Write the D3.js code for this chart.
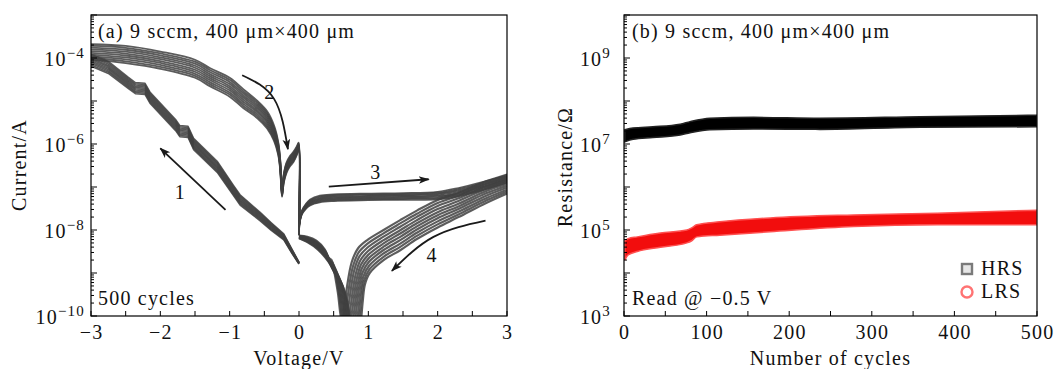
<!DOCTYPE html>
<html>
<head>
<meta charset="utf-8">
<script src="https://d3js.org/d3.v7.min.js"></script>
<style>
  body { margin: 0; background: #fff; }
  text { font-family: "Liberation Serif", "Times New Roman", serif; fill: #111; letter-spacing: 1.2px; }
</style>
</head>
<body>
<svg id="chart" width="1056" height="369"></svg>
<script>
// ---- dados ----
// (a) curvas I-V: tensão (V), log10 da corrente e meia-largura da faixa de ciclos
const sweep1V    = [0, -0.1, -0.22, -0.4, -0.56, -0.85, -0.95, -1.18, -1.52, -1.6, -1.72, -1.78, -2.15, -2.22, -2.36, -2.46, -2.75, -3.0];
const sweep1LogI = [-8.77, -8.5, -8.16, -7.92, -7.69, -7.3, -7.07, -6.53, -6.0, -5.72, -5.7, -5.56, -4.92, -4.72, -4.7, -4.58, -4.22, -4.05];
const sweep1Band = [0.02, 0.05, 0.07, 0.09, 0.1, 0.12, 0.12, 0.13, 0.13, 0.13, 0.13, 0.13, 0.13, 0.13, 0.13, 0.13, 0.14, 0.14];

const sweep2V    = [-3.0, -2.5, -2.0, -1.5, -1.28, -1.0, -0.8, -0.6, -0.46, -0.36, -0.3, -0.27, -0.245, -0.22, -0.18, -0.13, -0.08, -0.03, -0.005, 0.0];
const sweep2LogI = [-3.86, -3.92, -4.05, -4.25, -4.45, -4.68, -4.95, -5.2, -5.44, -5.75, -6.1, -6.5, -7.15, -6.8, -6.55, -6.4, -6.3, -6.15, -6.05, -8.1];
const sweep2Band = [0.18, 0.2, 0.2, 0.21, 0.21, 0.22, 0.22, 0.2, 0.2, 0.18, 0.15, 0.12, 0.08, 0.1, 0.12, 0.12, 0.12, 0.1, 0.08, 0.03];

const sweep3V    = [0, 0.04, 0.1, 0.16, 0.3, 0.5, 1.0, 1.5, 2.0, 2.3, 2.6, 3.0];
const sweep3LogI = [-7.92, -7.6, -7.45, -7.36, -7.28, -7.25, -7.23, -7.22, -7.2, -7.12, -7.0, -6.8];
const sweep3Band = [0.03, 0.05, 0.06, 0.07, 0.08, 0.08, 0.08, 0.08, 0.09, 0.1, 0.1, 0.1];

const sweep4V    = [3.0, 2.7, 2.3, 2.0, 1.7, 1.46, 1.22, 1.0, 0.9, 0.84, 0.78, 0.72, 0.66, 0.6, 0.55, 0.48, 0.4, 0.26, 0.12, 0.0];
const sweep4LogI = [-6.95, -7.12, -7.42, -7.62, -7.88, -8.12, -8.35, -8.62, -8.85, -9.2, -9.9, -10.6, -9.9, -9.3, -9.0, -8.85, -8.6, -8.35, -8.22, -8.16];
const sweep4Band = [0.2, 0.25, 0.28, 0.32, 0.33, 0.35, 0.35, 0.38, 0.42, 0.45, 0.45, 0.45, 0.45, 0.4, 0.3, 0.2, 0.15, 0.1, 0.06, 0.03];
const sweep4BandV = [0, 0, 0, 0, 0, 0, 0, 0.02, 0.05, 0.08, 0.1, 0.1, 0.1, 0.1, 0.08, 0.05, 0.03, 0.01, 0, 0];

// posição relativa de cada ciclo desenhado dentro da faixa
const cycleFactors = [-1, -0.78, -0.56, -0.33, -0.11, 0.11, 0.33, 0.56, 0.78, 1];

// (b) resistência vs ciclos: envoltória da faixa (log10 Ω)
const hrsCycles = [1, 11, 35, 68, 80, 104, 157, 237, 359, 500];
const hrsUpper  = [7.33, 7.37, 7.4, 7.46, 7.52, 7.6, 7.62, 7.6, 7.635, 7.67];
const hrsLower  = [7.05, 7.11, 7.15, 7.21, 7.26, 7.33, 7.35, 7.34, 7.39, 7.4];

const lrsCycles = [1, 5, 16, 44, 76, 82, 88, 116, 177, 278, 379, 500];
const lrsUpper  = [4.75, 4.8, 4.84, 4.93, 5.0, 5.05, 5.12, 5.19, 5.28, 5.35, 5.39, 5.46];
const lrsLower  = [4.3, 4.42, 4.5, 4.6, 4.7, 4.75, 4.84, 4.88, 4.96, 5.08, 5.12, 5.12];

// eixos
const voltTicks = [-3, -2, -1, 0, 1, 2, 3];
const currentLabelExp = [-4, -6, -8, -10];
const cycleTicks = [0, 100, 200, 300, 400, 500];
const resLabelExp = [3, 5, 7, 9];

// setas numeradas da figura (a): [V, log10 I]
const arrowPaths = [
  [[-1.06, -7.53], [-2.0, -6.1]],
  [[-0.82, -4.4], [-0.36, -4.95], [-0.16, -6.12]],
  [[0.43, -6.99], [1.87, -6.82]],
  [[2.69, -7.78], [1.94, -8.16], [1.34, -8.95]]
];
const arrowLabels = [["1", -1.71, -7.11], ["2", -0.42, -4.78], ["3", 1.11, -6.64], ["4", 1.92, -8.58]];

// ---- layout ----
const svg = d3.select("#chart");
const pa = { left: 91, right: 507, top: 15, bottom: 316 };
const pb = { left: 624, right: 1037, top: 15, bottom: 316 };

const xa = d3.scaleLinear().domain([-3, 3]).range([pa.left, pa.right]);
const ya = d3.scaleLog().domain([1e-10, 1e-3]).range([pa.bottom, pa.top]);
const xb = d3.scaleLinear().domain([0, 500]).range([pb.left, pb.right]);
const yb = d3.scaleLog().domain([1e3, 1e10]).range([pb.bottom, pb.top]);

const FS = 20;

const defs = svg.append("defs");
defs.append("clipPath").attr("id", "clipA").append("rect")
  .attr("x", pa.left).attr("y", pa.top).attr("width", pa.right - pa.left).attr("height", pa.bottom - pa.top);
defs.append("clipPath").attr("id", "clipB").append("rect")
  .attr("x", pb.left).attr("y", pb.top).attr("width", pb.right - pb.left).attr("height", pb.bottom - pb.top);
defs.append("marker").attr("id", "head")
  .attr("viewBox", "0 0 10 10").attr("refX", 9).attr("refY", 5)
  .attr("markerWidth", 11).attr("markerHeight", 11).attr("orient", "auto-start-reverse")
  .attr("markerUnits", "userSpaceOnUse")
  .append("path").attr("d", "M0,1.5 L10,5 L0,8.5 L2.5,5 Z").attr("fill", "#1a1a1a");

// função para eixos com escala log (ticks para dentro)
function drawAxes(p, x, y, xTicks, xMinor, labelExps, labelGap) {
  const g = svg.append("g");
  xMinor.forEach(t => {
    g.append("line").attr("x1", x(t)).attr("x2", x(t))
      .attr("y1", p.bottom).attr("y2", p.bottom - 5)
      .attr("stroke", "#000").attr("stroke-width", 1);
  });
  xTicks.forEach(t => {
    g.append("text").attr("x", x(t) + 0.6).attr("y", p.bottom + 23)
      .attr("text-anchor", "middle").attr("font-size", FS)
      .text(t < 0 ? "\u2212" + Math.abs(t) : t);
  });
  y.ticks().forEach(t => {
    const e = Math.log10(t);
    const major = Math.abs(e - Math.round(e)) < 1e-6;
    g.append("line").attr("x1", p.left).attr("x2", p.left + (major ? 6 : 3))
      .attr("y1", y(t)).attr("y2", y(t))
      .attr("stroke", "#000").attr("stroke-width", 1);
  });
  labelExps.forEach(e => {
    const t = g.append("text").attr("x", p.left - labelGap).attr("y", y(Math.pow(10, e)) + 8)
      .attr("text-anchor", "end").attr("font-size", FS);
    t.append("tspan").text("10");
    t.append("tspan").attr("dy", -8).attr("font-size", 15)
      .text(e < 0 ? "\u2212" + Math.abs(e) : e);
  });
  g.append("rect").attr("x", p.left).attr("y", p.top)
    .attr("width", p.right - p.left).attr("height", p.bottom - p.top)
    .attr("fill", "none").attr("stroke", "#000").attr("stroke-width", 1.2);
}

// ---- (a) curvas I-V ----
const lineSmooth = d3.line()
  .x(d => xa(d[0])).y(d => ya(Math.pow(10, d[1])))
  .curve(d3.curveCatmullRom.alpha(0.5));
const lineStraight = d3.line()
  .x(d => xa(d[0])).y(d => ya(Math.pow(10, d[1])));

const gA = svg.append("g").attr("clip-path", "url(#clipA)");
const sweeps = [
  [sweep1V, sweep1LogI, sweep1Band, null, lineStraight, 1.5],
  [sweep2V, sweep2LogI, sweep2Band, null, lineSmooth, 1.8],
  [sweep3V, sweep3LogI, sweep3Band, null, lineSmooth, 1.5],
  [sweep4V, sweep4LogI, sweep4Band, sweep4BandV, lineSmooth, 2.2]
];
sweeps.forEach(([vs, ls, band, bandV, gen, sw]) => {
  cycleFactors.forEach(k => {
    const pts = vs.map((v, i) => [v - (bandV ? k * bandV[i] : 0), ls[i] + k * band[i]]);
    gA.append("path").attr("d", gen(pts))
      .attr("fill", "none").attr("stroke", "#404040")
      .attr("stroke-width", sw).attr("stroke-opacity", 0.85)
      .attr("stroke-linejoin", "round");
  });
});

// setas
const arrowLine = d3.line().x(d => xa(d[0])).y(d => ya(Math.pow(10, d[1]))).curve(d3.curveNatural);
arrowPaths.forEach(a => {
  svg.append("path").attr("d", arrowLine(a))
    .attr("fill", "none").attr("stroke", "#1a1a1a").attr("stroke-width", 1.8)
    .attr("marker-end", "url(#head)");
});
arrowLabels.forEach(([s, v, l]) => {
  svg.append("text").attr("x", xa(v)).attr("y", ya(Math.pow(10, l)) + 7)
    .attr("text-anchor", "middle").attr("font-size", FS).text(s);
});

drawAxes(pa, xa, ya, voltTicks, d3.range(-3, 3.01, 0.5), currentLabelExp, 6);

svg.append("text").attr("x", 98).attr("y", 38).attr("font-size", FS)
  .text("(a) 9 sccm, 400 \u03bcm\u00d7400 \u03bcm");
svg.append("text").attr("x", 98).attr("y", 305).attr("font-size", FS).text("500 cycles");
svg.append("text").attr("x", (pa.left + pa.right) / 2).attr("y", 365)
  .attr("text-anchor", "middle").attr("font-size", FS).text("Voltage/V");
svg.append("text").attr("transform", "translate(26,165) rotate(-90)")
  .attr("text-anchor", "middle").attr("font-size", FS).text("Current/A");

// ---- (b) resistência ----
const gB = svg.append("g").attr("clip-path", "url(#clipB)");
function band(cycles, lower, upper, fill, stroke) {
  const area = d3.area()
    .x((d, i) => xb(cycles[i]))
    .y0((d, i) => yb(Math.pow(10, lower[i])))
    .y1((d, i) => yb(Math.pow(10, upper[i])))
    .curve(d3.curveMonotoneX);
  gB.append("path").attr("d", area(cycles))
    .attr("fill", fill).attr("stroke", stroke).attr("stroke-width", 1.5);
}
band(hrsCycles, hrsLower, hrsUpper, "#000", "#222");
band(lrsCycles, lrsLower, lrsUpper, "#f20d0d", "#ff5050");

drawAxes(pb, xb, yb, cycleTicks, d3.range(0, 501, 50), resLabelExp, 13);

svg.append("text").attr("x", 632).attr("y", 38).attr("font-size", FS)
  .text("(b) 9 sccm, 400 \u03bcm\u00d7400 \u03bcm");
svg.append("text").attr("x", 632).attr("y", 305).attr("font-size", FS).text("Read @ \u22120.5 V");
svg.append("text").attr("x", (pb.left + pb.right) / 2).attr("y", 365)
  .attr("text-anchor", "middle").attr("font-size", FS).text("Number of cycles");
svg.append("text").attr("transform", "translate(572,167) rotate(-90)")
  .attr("text-anchor", "middle").attr("font-size", FS).text("Resistance/\u03a9");

// legenda
svg.append("rect").attr("x", 962).attr("y", 264).attr("width", 10).attr("height", 10)
  .attr("fill", "#e6e6e6").attr("stroke", "#7a7a7a").attr("stroke-width", 2.4);
svg.append("text").attr("x", 981).attr("y", 275).attr("font-size", FS).text("HRS");
svg.append("circle").attr("cx", 967).attr("cy", 292).attr("r", 5.5)
  .attr("fill", "#fff").attr("stroke", "#ff7373").attr("stroke-width", 2.4);
svg.append("text").attr("x", 981).attr("y", 298).attr("font-size", FS).text("LRS");
</script>
</body>
</html>
